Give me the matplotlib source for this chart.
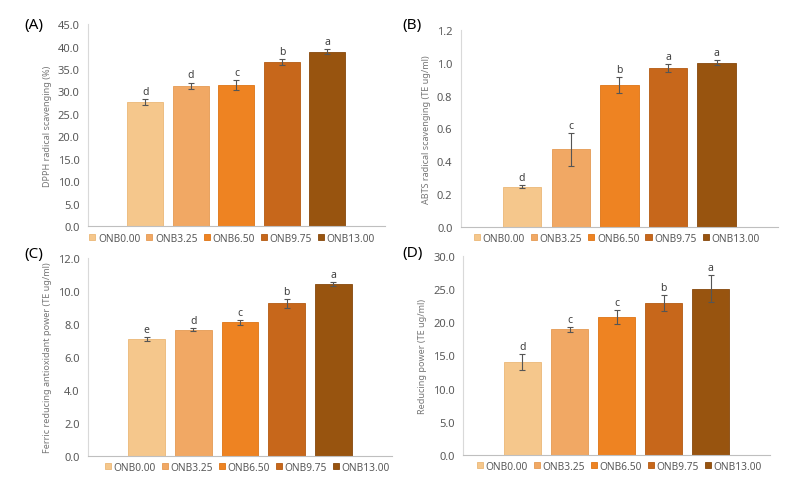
import matplotlib.pyplot as plt
import numpy as np

plt.rcParams['font.family'] = ['Noto Sans', 'DejaVu Sans']

samples = ['ONB0.00', 'ONB3.25', 'ONB6.50', 'ONB9.75', 'ONB13.00']
colors = ['#F5C78C', '#F1A864', '#EE8322', '#C7671B', '#98540F']
edges = ['#EBB877', '#E59A53', '#DD7414', '#B45A12', '#86480B']

# panel data (mean, sd, letters)
dpph = [27.6, 31.3, 31.4, 36.5, 38.9]
dpph_err = [0.7, 0.7, 1.1, 0.7, 0.55]
dpph_let = ['d', 'd', 'c', 'b', 'a']

abts = [0.246, 0.474, 0.864, 0.968, 1.002]
abts_err = [0.01, 0.10, 0.05, 0.025, 0.015]
abts_let = ['d', 'c', 'b', 'a', 'a']

frap = [7.08, 7.65, 8.10, 9.25, 10.43]
frap_err = [0.14, 0.08, 0.16, 0.27, 0.10]
frap_let = ['e', 'd', 'c', 'b', 'a']

rp = [14.0, 18.95, 20.8, 22.9, 25.1]
rp_err = [1.2, 0.4, 1.1, 1.15, 2.0]
rp_let = ['d', 'c', 'c', 'b', 'a']

panels = [
    ('(A)', dpph, dpph_err, dpph_let, 'DPPH radical scavenging (%)', 45, 5,
     [0.110, 0.532, 0.371, 0.416], (0.290, 0.507), (0.031, 0.948)),
    ('(B)', abts, abts_err, abts_let, 'ABTS radical scavenging (TE ug/ml)', 1.2, 0.2,
     [0.576, 0.530, 0.3965, 0.406], (0.771, 0.507), (0.503, 0.948)),
    ('(C)', frap, frap_err, frap_let, 'Ferric reducing antioxidant power (TE ug/ml)', 12, 2,
     [0.110, 0.058, 0.380, 0.408], (0.309, 0.035), (0.031, 0.476)),
    ('(D)', rp, rp_err, rp_let, 'Reducing power (TE ug/ml)', 30, 5,
     [0.579, 0.060, 0.3835, 0.410], (0.774, 0.037), (0.503, 0.478)),
]

fig = plt.figure(figsize=(8, 4.85), dpi=100)

for tag, vals, errs, lets, ylab, ymax, step, pos, legpos, tagpos in panels:
    ax = fig.add_axes(pos)
    x = np.arange(len(samples))
    bars = []
    for i in range(len(samples)):
        b = ax.bar(x[i], vals[i], width=0.79, color=colors[i], edgecolor=edges[i],
                   linewidth=0.6, label=samples[i], zorder=2)
        bars.append(b)
    ax.errorbar(x, vals, yerr=errs, fmt='none', ecolor='#555555', elinewidth=0.8,
                capsize=2, capthick=0.8, zorder=3)
    for i in range(len(samples)):
        ax.annotate(lets[i], (x[i], vals[i] + errs[i]), xytext=(0, 1.5),
                    textcoords='offset points', ha='center', va='bottom',
                    fontsize=7.5, color='#404040')
    ax.set_xlim(-1.26, 5.26)
    ax.set_ylim(0, ymax)
    ticks = np.arange(0, ymax + step / 2, step)
    ax.set_yticks(ticks)
    ax.set_yticklabels(['{:.1f}'.format(t) for t in ticks], fontsize=8, color='#595959')
    ax.set_xticks([])
    ax.tick_params(axis='y', length=0, pad=6)
    ax.set_ylabel(ylab, fontsize=6.5, color='#767676', labelpad=4)
    for s in ['top', 'right']:
        ax.spines[s].set_visible(False)
    ax.spines['left'].set_color('#D9D9D9')
    ax.spines['bottom'].set_color('#BFBFBF')
    ax.spines['left'].set_linewidth(0.8)
    ax.spines['bottom'].set_linewidth(0.8)
    fig.legend(handles=bars, labels=samples, loc='center', bbox_to_anchor=legpos,
               ncol=5, frameon=False, fontsize=7.3, handlelength=0.6, handleheight=0.6,
               handletextpad=0.25, columnspacing=0.6, labelcolor='#595959')
    fig.text(tagpos[0], tagpos[1], tag, fontsize=11, ha='left', va='center')

fig.savefig('out.png', dpi=100)
